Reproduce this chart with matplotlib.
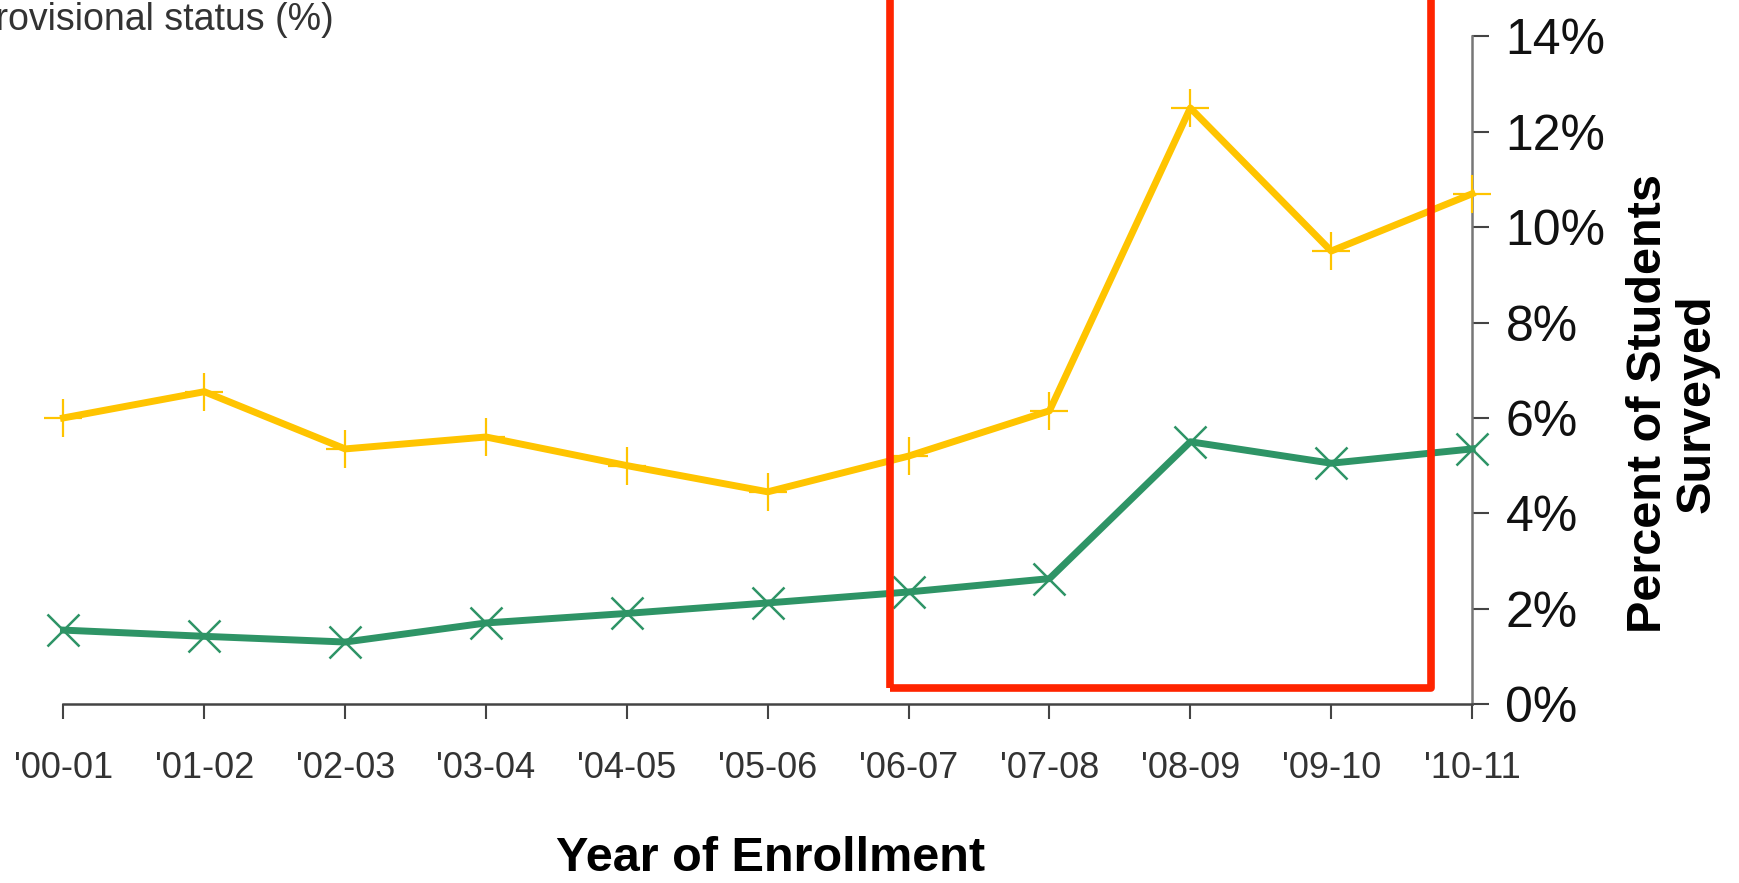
import matplotlib
matplotlib.use('Agg')
import matplotlib.pyplot as plt
from matplotlib.patches import Rectangle
from matplotlib.ticker import FuncFormatter

years = ["'00-01", "'01-02", "'02-03", "'03-04", "'04-05", "'05-06",
         "'06-07", "'07-08", "'08-09", "'09-10", "'10-11"]
yellow_series = [6.0, 6.55, 5.35, 5.6, 5.0, 4.45, 5.2, 6.15, 12.5, 9.5, 10.7]
green_series = [1.55, 1.42, 1.3, 1.7, 1.9, 2.12, 2.35, 2.63, 5.5, 5.05, 5.35]
y_ticks = [0, 2, 4, 6, 8, 10, 12, 14]

YELLOW = '#FFC400'
GREEN = '#2E9466'
RED = '#FF2400'

sans = ['Liberation Sans', 'DejaVu Sans']

fig = plt.figure(figsize=(17.39, 8.83), dpi=100)
ax = fig.add_axes([0.0365, 0.2027, 0.810, 0.756])

x = list(range(len(years)))
ax.plot(x, yellow_series, color=YELLOW, lw=5, marker='+', ms=27, mew=1.6,
        clip_on=False, zorder=3)
ax.plot(x, green_series, color=GREEN, lw=5, marker='x', ms=23, mew=1.8,
        clip_on=False, zorder=3)

ax.set_xlim(0, len(years) - 1)
ax.set_ylim(0, 14)

# spines: bottom + right only
ax.spines['top'].set_visible(False)
ax.spines['left'].set_visible(False)
ax.spines['bottom'].set_color('#444444')
ax.spines['bottom'].set_linewidth(1.8)
ax.spines['right'].set_color('#777777')
ax.spines['right'].set_linewidth(1.8)

ax.set_xticks(x)
ax.set_xticklabels(years, fontfamily=sans, fontsize=26, color='#333333')
ax.tick_params(axis='x', direction='out', length=11, width=1.5,
               color='#444444', pad=23)

ax.yaxis.tick_right()
ax.set_yticks(y_ticks)
ax.yaxis.set_major_formatter(FuncFormatter(lambda v, p: f'{v:.0f}%'))
ax.tick_params(axis='y', direction='out', length=12, width=1.5,
               color='#444444', pad=12, labelsize=36)
for lab in ax.get_yticklabels():
    lab.set_fontfamily(sans)
    lab.set_color('#111111')

# red highlight box around the later years
box = Rectangle((5.87, 0.33), 9.71 - 5.87, 20, fill=False, edgecolor=RED,
                lw=5.5, joinstyle='round', clip_on=False, zorder=4,
                transform=ax.transData)
ax.add_patch(box)

fig.text(0.962, 0.543, 'Percent of Students\nSurveyed', rotation=90,
         ha='center', va='center', multialignment='center',
         fontfamily=sans, fontweight='bold', fontsize=35, linespacing=1.1)
fig.text(0.443, 0.028, 'Year of Enrollment', ha='center', va='center',
         fontfamily=sans, fontweight='bold', fontsize=35)
fig.text(0.192, 0.977, 'Students on provisional status (%)', ha='right',
         va='center', fontfamily=sans, fontsize=27, color='#333333')

fig.savefig('out.png', dpi=100, facecolor='white')
